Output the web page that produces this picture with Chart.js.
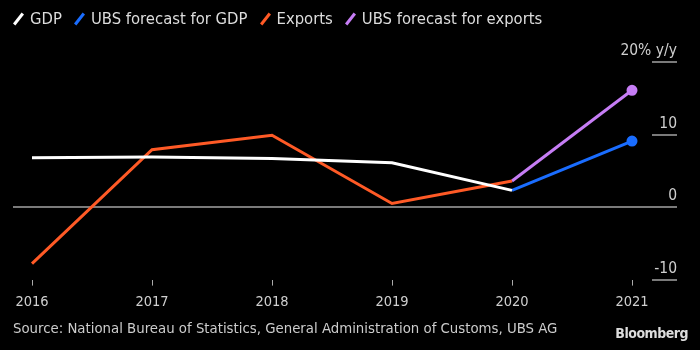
<!DOCTYPE html>
<html>
<head>
<meta charset="utf-8">
<script src="https://cdn.jsdelivr.net/npm/chart.js@4"></script>
<style>
  html, body { margin: 0; padding: 0; background: #000; }
  #wrap { position: relative; width: 700px; height: 350px; background: #000; overflow: hidden; }
  #myChart { position: absolute; left: 0; top: 0; }
  #legend { position: absolute; left: 13px; top: 9px; font: 16.5px "DejaVu Sans Condensed", sans-serif; color: #ddd; white-space: nowrap; }
  #legend span.item { margin-right: 12px; }
  #legend i { display: inline-block; width: 3px; height: 14px; margin: 0 10px -2px 4px; transform: rotate(38deg); }
  #source { position: absolute; left: 13px; top: 319px; font: 14.8px "DejaVu Sans Condensed", sans-serif; color: #ccc; white-space: nowrap; }
  #brand { position: absolute; right: 12px; top: 325px; font: bold 14px "DejaVu Sans Condensed", sans-serif; color: #ddd; letter-spacing: -0.5px; }
</style>
</head>
<body>
<div id="wrap">
  <canvas id="myChart" width="700" height="350"></canvas>
  <div id="legend"></div>
  <div id="source">Source: National Bureau of Statistics, General Administration of Customs, UBS AG</div>
  <div id="brand">Bloomberg</div>
</div>
<script>
const years = ["2016", "2017", "2018", "2019", "2020", "2021"];
const gdp = [6.8, 6.9, 6.7, 6.1, 2.3, null];
const ubsGdp = [null, null, null, null, 2.3, 9.1];
const exportsYoY = [-7.8, 7.9, 9.9, 0.5, 3.6, null];
const ubsExports = [null, null, null, null, 3.6, 16.1];
const yTicks = [-10, 0, 10, 20];
const yTickLabels = ["-10", "0", "10", "20% y/y"];

const colors = {
    gdp: "#ffffff",
    ubsGdp: "#1a6dff",
    exports: "#ff5a26",
    ubsExports: "#c67df5",
};

const chart = document.querySelector("#myChart");
const legendBox = document.querySelector("#legend");

// endpoint dot only on the last point
const lastDot = (arr) => arr.map((v, i) => (i === arr.length - 1 ? 4 : 0));

const makeSet = (label, data, color) => ({
    label,
    data,
    borderColor: color,
    backgroundColor: color,
    borderWidth: 3,
    pointRadius: lastDot(data),
    pointHoverRadius: 0,
    tension: 0,
    spanGaps: false,
    clip: false,
});

const datasets = [
    makeSet("GDP", gdp, colors.gdp),
    makeSet("UBS forecast for GDP", ubsGdp, colors.ubsGdp),
    makeSet("Exports", exportsYoY, colors.exports),
    makeSet("UBS forecast for exports", ubsExports, colors.ubsExports),
];

// html legend with slanted line markers
legendBox.innerHTML = datasets
    .map((d) => `<span class="item"><i style="background:${d.borderColor}"></i>${d.label}</span>`)
    .join("");

// right side value axis: short rules with labels sitting on them, zero line full width
const rightAxis = {
    id: "rightAxis",
    beforeDatasetsDraw(c) {
        const ctx = c.ctx;
        const y = c.scales.y;
        ctx.save();
        ctx.lineWidth = 2;
        ctx.strokeStyle = "#7a7a7a";
        yTicks.forEach((v, i) => {
            const py = Math.round(y.getPixelForValue(v));
            ctx.beginPath();
            if (v === 0) {
                ctx.moveTo(13, py);
            } else {
                ctx.moveTo(652, py);
            }
            ctx.lineTo(677, py);
            ctx.stroke();
            ctx.fillStyle = "#cfcfcf";
            ctx.font = '15.5px "DejaVu Sans Condensed", sans-serif';
            ctx.textAlign = "right";
            ctx.textBaseline = "alphabetic";
            ctx.fillText(yTickLabels[i], 677, py - 7);
        });
        ctx.restore();
    },
};

const config = {
    type: "line",
    data: { labels: years, datasets },
    options: {
        responsive: false,
        animation: false,
        layout: { padding: { left: 32, right: 68, top: 62, bottom: 31 } },
        plugins: { legend: { display: false }, tooltip: { enabled: false } },
        scales: {
            x: {
                offset: false,
                grid: { drawOnChartArea: false, drawTicks: true, tickLength: 6, color: "#aaa", lineWidth: 1 },
                border: { display: false },
                ticks: {
                    color: "#cfcfcf",
                    font: { family: "DejaVu Sans Condensed", size: 14.5 },
                    padding: 8,
                    maxRotation: 0,
                    autoSkip: false,
                },
            },
            y: {
                display: false,
                min: -10,
                max: 20,
            },
        },
    },
    plugins: [rightAxis],
};

const myChart = new Chart(chart, config);
</script>
</body>
</html>
